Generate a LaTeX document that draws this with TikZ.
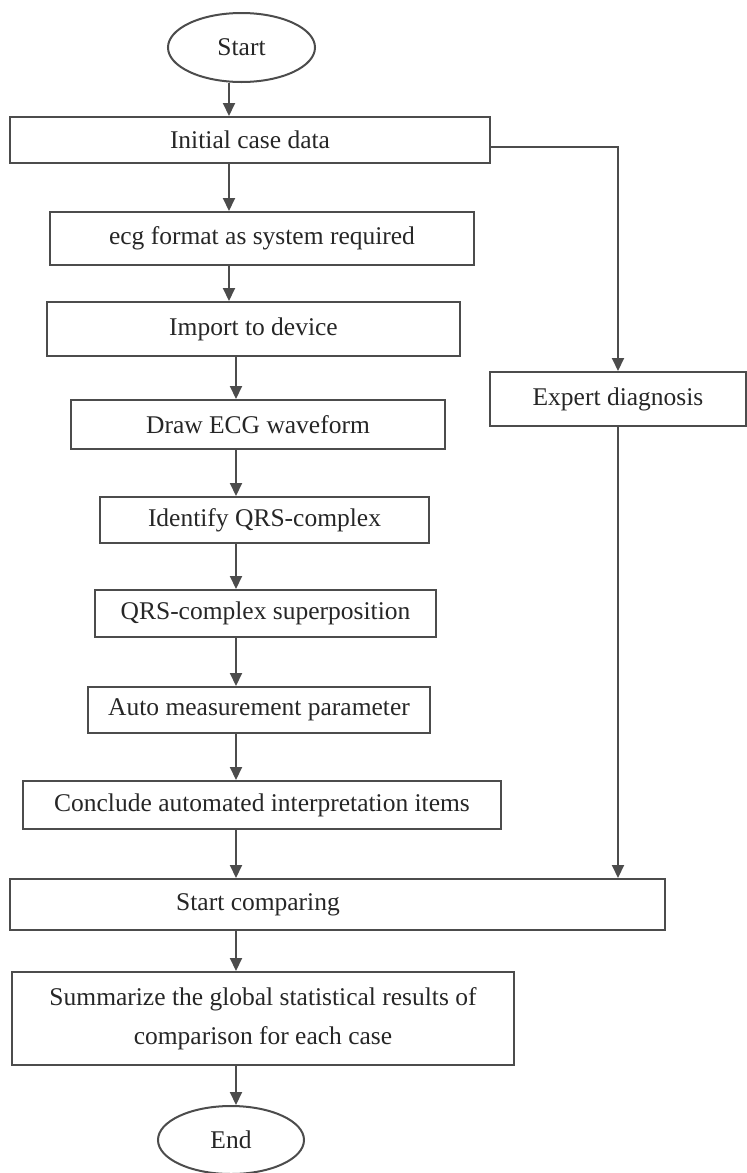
\documentclass[tikz,border=0pt]{standalone}
\usepackage{fontspec}
\setmainfont{Liberation Serif}
\usetikzlibrary{arrows.meta,positioning,shapes.geometric}

\begin{document}
\begin{tikzpicture}[
    x=0.5pt, y=-0.5pt,
    line/.style={draw=black!70, line width=1pt},
    block/.style={line, rectangle, inner sep=0pt, align=center,
      text=black!85, font=\fontsize{12.75}{19.5}\selectfont},
    terminal/.style={block, ellipse},
    arrow/.style={line, -{Triangle[length=6.5pt, width=6pt]}}
  ]
  \useasboundingbox (0,0) rectangle (747,1173);

  % main column
  \node[terminal, minimum width=73.5pt, minimum height=34.5pt] (start) at (241.5,47.5) {Start};
  \node[block, minimum width=240.25pt, minimum height=23pt] (init) at (250,140) {Initial case data};
  \node[block, minimum width=212pt, minimum height=26.5pt] (ecg) at (262,238.5) {ecg format as system required};
  \node[block, minimum width=206.5pt, minimum height=27pt] (import) at (253.5,329) {Import to device};
  \node[block, minimum width=187pt, minimum height=24.5pt] (wave) at (258,424.5) {Draw ECG waveform};
  \node[block, minimum width=164.5pt, minimum height=23pt] (ident) at (264.5,520) {Identify QRS-complex};
  \node[block, minimum width=170.5pt, minimum height=23.5pt] (superpos) at (265.5,613.5) {QRS-complex superposition};
  \node[block, minimum width=171pt, minimum height=23pt] (measure) at (259,710) {Auto measurement parameter};
  \node[block, minimum width=239pt, minimum height=24pt] (conclude) at (262,805) {Conclude automated interpretation items};
  \node[block, minimum width=327.5pt, minimum height=25.5pt,
    label={[block, draw=none, xshift=-39.5pt]center:Start comparing}] (compare) at (337,904.5) {};
  \node[block, minimum width=251pt, minimum height=46.5pt] (summary) at (263,1018.5)
    {Summarize the global statistical results of\\comparison for each case};
  \node[terminal, minimum width=73pt, minimum height=34pt] (end) at (231,1140) {End};

  % expert branch
  \node[block, minimum width=128pt, minimum height=27pt] (expert) at (618,399) {Expert diagnosis};

  \coordinate (colA) at (229,0);
  \coordinate (colB) at (236,0);

  \draw[arrow] (start.south -| colA) -- (init.north -| colA);
  \draw[arrow] (init.south -| colA) -- (ecg.north -| colA);
  \draw[arrow] (ecg.south -| colA) -- (import.north -| colA);
  \draw[arrow] (import.south -| colB) -- (wave.north -| colB);
  \draw[arrow] (wave.south -| colB) -- (ident.north -| colB);
  \draw[arrow] (ident.south -| colB) -- (superpos.north -| colB);
  \draw[arrow] (superpos.south -| colB) -- (measure.north -| colB);
  \draw[arrow] (measure.south -| colB) -- (conclude.north -| colB);
  \draw[arrow] (conclude.south -| colB) -- (compare.north -| colB);
  \draw[arrow] (compare.south -| colB) -- (summary.north -| colB);
  \draw[arrow] (summary.south -| colB) -- (end.north -| colB);
  \draw[arrow] ([yshift=-3.5pt]init.east) -| (expert.north);
  \draw[arrow] (expert.south) -- (expert.south |- compare.north);
\end{tikzpicture}
\end{document}
